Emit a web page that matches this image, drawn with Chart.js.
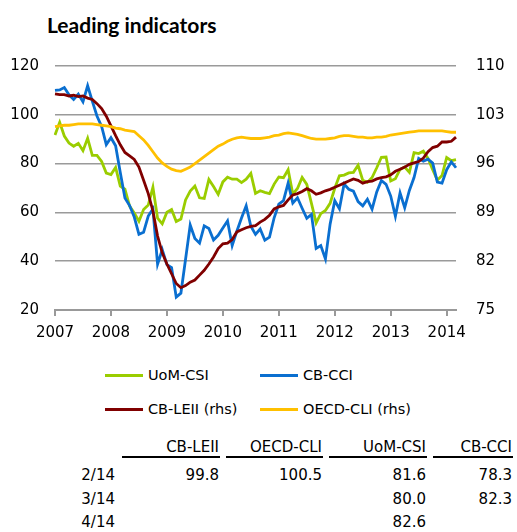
<!DOCTYPE html>
<html>
<head>
<meta charset="utf-8">
<script src="https://cdn.jsdelivr.net/npm/chart.js@4.4.1/dist/chart.umd.min.js"></script>
<style>
  body { margin:0; width:517px; height:532px; background:#fff; font-family:"DejaVu Sans", sans-serif; color:#000; position:relative; overflow:hidden; }
  #title { position:absolute; left:47px; top:13px; font:bold 21px Lato, "Open Sans", sans-serif; line-height:24px; white-space:nowrap; }
  #wrap { position:absolute; left:0; top:0; width:517px; height:350px; }
  .leg { position:absolute; font-size:14.5px; line-height:18px; white-space:nowrap; }
  .leg i { position:absolute; left:-43px; top:7.5px; width:38px; height:3px; }
  .cell { position:absolute; font-size:15px; line-height:18px; text-align:right; white-space:nowrap; }
  .rule { position:absolute; height:2px; background:#000; }
</style>
</head>
<body>
<div id="title">Leading indicators</div>
<div id="wrap"><canvas id="chartLead"></canvas></div>
<div id="legend"></div>
<div id="table"></div>
<script>
// monthly, Dec 2006 .. Feb 2014
var yearLabels = ["2007", "2008", "2009", "2010", "2011", "2012", "2013", "2014"];

var uomCsi = [91.7,
  96.9, 91.3, 88.4, 87.1, 88.3, 85.3, 90.4, 83.4, 83.4, 80.9, 76.1, 75.5,
  78.4, 70.8, 69.5, 62.6, 59.8, 56.4, 61.2, 63.0, 70.3, 57.6, 55.3, 60.1,
  61.2, 56.3, 57.3, 65.1, 68.7, 70.8, 66.0, 65.7, 73.5, 70.6, 67.4, 72.5,
  74.4, 73.6, 73.6, 72.2, 73.6, 76.0, 67.8, 68.9, 68.2, 67.7, 71.6, 74.5,
  74.2, 77.5, 67.5, 69.8, 74.3, 71.5, 63.7, 55.7, 59.5, 60.8, 63.7, 69.9,
  75.0, 75.3, 76.2, 76.4, 79.3, 73.2, 72.3, 74.3, 78.3, 82.6, 82.7, 72.9,
  73.8, 77.6, 78.6, 76.4, 84.5, 84.1, 85.1, 82.1, 77.5, 73.2, 75.1, 82.5,
  81.2, 81.6];

var cbCci = [110.0,
  110.2, 111.2, 108.2, 106.3, 108.5, 105.3, 111.9, 105.6, 99.5, 95.2, 87.8, 90.6,
  87.3, 76.4, 65.9, 62.8, 58.1, 51.0, 51.9, 58.5, 61.4, 38.8, 44.7, 38.6,
  37.4, 25.3, 26.9, 40.8, 54.8, 49.3, 47.4, 54.5, 53.4, 48.7, 50.6, 53.6,
  56.5, 46.4, 52.3, 57.7, 62.7, 54.3, 51.0, 53.2, 48.6, 49.9, 57.8, 63.4,
  64.8, 72.0, 63.8, 66.0, 61.7, 57.6, 59.2, 45.2, 46.4, 40.9, 55.2, 64.8,
  61.5, 71.6, 69.5, 68.7, 64.4, 62.7, 65.4, 61.3, 68.4, 73.1, 71.5, 66.7,
  58.4, 68.0, 61.9, 69.0, 74.3, 82.1, 81.0, 81.8, 80.2, 72.4, 72.0, 77.5,
  80.7, 78.3];

var cbLei = [106.0,
  105.9, 105.9, 105.7, 105.8, 105.6, 105.7, 105.4, 105.2, 104.6, 103.9, 102.8, 101.4,
  100.0, 98.7, 97.6, 97.1, 96.6, 95.5, 93.6, 91.7, 89.2, 85.6, 83.2, 81.6,
  80.2, 78.8, 78.2, 78.5, 79.0, 79.3, 80.0, 80.7, 81.6, 82.6, 83.8, 84.5,
  84.6, 85.1, 86.2, 86.5, 86.8, 87.0, 87.1, 87.6, 88.0, 88.6, 89.5, 89.8,
  90.0, 90.8, 91.5, 91.7, 92.0, 92.4, 92.1, 91.6, 91.8, 92.1, 92.3, 92.6,
  92.9, 93.2, 93.5, 93.8, 93.6, 93.2, 93.4, 93.5, 93.8, 94.0, 94.1, 94.4,
  94.9, 95.2, 95.5, 95.9, 96.1, 96.3, 96.8, 97.7, 98.3, 98.5, 99.1, 99.1,
  99.2, 99.8];

var oecdCli = [101.3,
  101.4, 101.5, 101.5, 101.6, 101.7, 101.7, 101.7, 101.7, 101.6, 101.5, 101.4, 101.3,
  101.1, 101.0, 100.8, 100.7, 100.6, 100.0, 99.4, 98.6, 97.7, 96.8, 96.1, 95.6,
  95.2, 95.0, 94.9, 95.2, 95.5, 96.0, 96.5, 97.0, 97.5, 98.0, 98.5, 98.8,
  99.2, 99.5, 99.7, 99.8, 99.7, 99.6, 99.6, 99.6, 99.7, 99.8, 100.0, 100.1,
  100.3, 100.4, 100.3, 100.2, 100.0, 99.8, 99.6, 99.5, 99.5, 99.5, 99.6, 99.7,
  99.9, 100.0, 100.0, 99.9, 99.8, 99.8, 99.7, 99.7, 99.8, 99.8, 99.9, 100.1,
  100.2, 100.3, 100.4, 100.5, 100.6, 100.7, 100.7, 100.7, 100.7, 100.7, 100.7, 100.6,
  100.5, 100.5];

var seriesNames = ["UoM-CSI", "CB-CCI", "CB-LEII (rhs)", "OECD-CLI (rhs)"];
var seriesColors = ["#9acd00", "#0a6fd0", "#800000", "#ffc000"];

var tableHeaders = ["CB-LEII", "OECD-CLI", "UoM-CSI", "CB-CCI"];
var tableRowLabels = ["2/14", "3/14", "4/14"];
var tableLeii = ["99.8", "", ""];
var tableOecd = ["100.5", "", ""];
var tableUom = ["81.6", "80.0", "82.6"];
var tableCci = ["78.3", "82.3", ""];

var months = [];
for (var k = 0; k < uomCsi.length; k++) {
  var m = (11 + k) % 12 + 1;
  var y = 2006 + Math.floor((11 + k) / 12);
  months.push(m + "/" + String(y).slice(2));
}

function makeSet(i, data, axis, order) {
  return {
    label: seriesNames[i],
    data: data,
    yAxisID: axis,
    borderColor: seriesColors[i],
    backgroundColor: seriesColors[i],
    borderWidth: 2.8,
    pointRadius: 0,
    tension: 0,
    fill: false,
    order: order,
  };
}

var ctx = document.getElementById("chartLead").getContext("2d");
new Chart(ctx, {
  type: "line",
  data: {
    labels: months,
    datasets: [
      makeSet(0, uomCsi, "y", 4),
      makeSet(1, cbCci, "y", 3),
      makeSet(2, cbLei, "y1", 2),
      makeSet(3, oecdCli, "y1", 1),
    ],
  },
  options: {
    responsive: true,
    maintainAspectRatio: false,
    animation: false,
    layout: { padding: { top: 66, bottom: 4, left: 0, right: 0 } },
    plugins: { legend: { display: false }, tooltip: { enabled: false } },
    scales: {
      x: {
        type: "category",
        offset: false,
        afterFit: function (s) { s.height = 36; },
        border: { display: true, color: "#999", width: 2 },
        grid: {
          drawOnChartArea: false,
          drawTicks: true,
          tickLength: 6,
          lineWidth: 2,
          color: function (c) { return c.index % 12 === 0 ? "#999" : "rgba(0,0,0,0)"; },
        },
        ticks: {
          autoSkip: false,
          maxRotation: 0,
          minRotation: 0,
          padding: 8,
          color: "#000",
          font: { family: "DejaVu Sans", size: 15 },
          callback: function (v, i) { return i % 12 === 0 ? yearLabels[i / 12] : ""; },
        },
      },
      y: {
        position: "left",
        min: 20,
        max: 120,
        afterFit: function (s) { s.width = 55; },
        border: { display: false },
        grid: { color: "#9a9a9a", lineWidth: 1.5, drawTicks: false },
        ticks: { stepSize: 20, padding: 16, color: "#000", font: { family: "DejaVu Sans", size: 15 } },
      },
      y1: {
        position: "right",
        min: 75,
        max: 110,
        afterFit: function (s) { s.width = 61; },
        border: { display: false },
        grid: { drawOnChartArea: false, drawTicks: false },
        ticks: { stepSize: 7, padding: 20, color: "#000", font: { family: "DejaVu Sans", size: 15 } },
      },
    },
  },
});

// legend, 2 x 2
var legX = [148, 303], legY = [375, 409];
var legend = document.getElementById("legend");
seriesNames.forEach(function (name, i) {
  var d = document.createElement("div");
  d.className = "leg";
  d.style.left = legX[i % 2] + "px";
  d.style.top = (legY[Math.floor(i / 2)] - 9) + "px";
  d.innerHTML = '<i style="background:' + seriesColors[i] + '"></i>' + name;
  legend.appendChild(d);
});

// latest values table
var colRight = [219, 322, 426, 512], ruleLeft = [122, 226, 329, 433];
var rowY = [475, 499, 522];
var cols = [tableLeii, tableOecd, tableUom, tableCci];
var tbl = document.getElementById("table");
function cell(text, right, cy) {
  var d = document.createElement("div");
  d.className = "cell";
  d.style.left = (right - 120) + "px";
  d.style.width = "120px";
  d.style.top = (cy - 9) + "px";
  d.textContent = text;
  tbl.appendChild(d);
}
tableHeaders.forEach(function (h, c) {
  cell(h, colRight[c], 447);
  var r = document.createElement("div");
  r.className = "rule";
  r.style.left = ruleLeft[c] + "px";
  r.style.width = (colRight[c] - ruleLeft[c] + 1) + "px";
  r.style.top = "456px";
  tbl.appendChild(r);
  cols[c].forEach(function (v, r2) { if (v) cell(v, colRight[c], rowY[r2]); });
});
tableRowLabels.forEach(function (lab, r) { cell(lab, 115, rowY[r]); });
</script>
</body>
</html>
